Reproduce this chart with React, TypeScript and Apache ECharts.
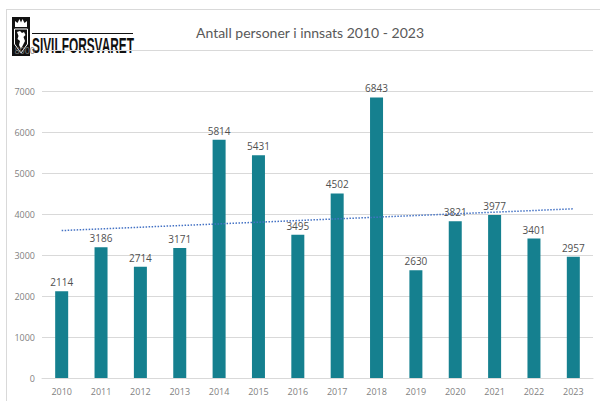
import React, { useEffect, useRef } from "react";
import * as echarts from "echarts";

const years = ["2010", "2011", "2012", "2013", "2014", "2015", "2016", "2017", "2018", "2019", "2020", "2021", "2022", "2023"];
const persons = [2114, 3186, 2714, 3171, 5814, 5431, 3495, 4502, 6843, 2630, 3821, 3977, 3401, 2957];
const titleText = "Antall personer i innsats 2010 - 2023";
const logoText = "SIVILFORSVARET";

// linear trendline (least squares) computed from the data, as Excel does
function linearTrend(vals: number[]): number[] {
  const n = vals.length;
  const mx = (n - 1) / 2;
  const my = vals.reduce((a, b) => a + b, 0) / n;
  let sxy = 0;
  let sxx = 0;
  vals.forEach((v, i) => {
    sxy += (i - mx) * (v - my);
    sxx += (i - mx) * (i - mx);
  });
  const slope = sxy / sxx;
  return vals.map((_, i) => Math.round((my + slope * (i - mx)) * 10) / 10);
}

export default function App() {
  const ref = useRef<HTMLDivElement>(null);
  useEffect(() => {
    if (!ref.current) return;
    const chart = echarts.init(ref.current, null, { renderer: "svg" });
    const trend = linearTrend(persons);
    chart.setOption({
      animation: false,
      backgroundColor: "#ffffff",
      title: {
        text: titleText,
        left: 305,
        top: 20,
        textAlign: "center",
        textStyle: { fontFamily: "Lato", fontSize: 14, fontWeight: "normal", color: "#595959" },
      },
      grid: { left: 42, right: 7, top: 50, bottom: 23 },
      xAxis: {
        type: "category",
        data: years,
        boundaryGap: true,
        axisLine: { show: true, lineStyle: { color: "#d9d9d9", width: 1 } },
        axisTick: { show: false },
        axisLabel: { color: "#7f7f7f", fontSize: 9, fontFamily: "Open Sans", margin: 9 },
      },
      yAxis: {
        type: "value",
        min: 0,
        max: 8000,
        interval: 1000,
        axisLine: { show: false },
        axisTick: { show: false },
        splitLine: { lineStyle: { color: "#d9d9d9", width: 1 } },
        axisLabel: {
          color: "#7f7f7f",
          fontSize: 9,
          fontFamily: "Open Sans",
          margin: 7,
          formatter: (v: number) => String(v),
        },
      },
      series: [
        {
          type: "bar",
          data: persons,
          barWidth: 13,
          itemStyle: { color: "#15808f" },
          label: {
            show: true,
            position: "top",
            distance: 4,
            fontSize: 10,
            fontFamily: "Open Sans",
            color: "#505050",
          },
          z: 2,
        },
        {
          type: "line",
          data: trend,
          symbol: "none",
          silent: true,
          lineStyle: { color: "#4472c4", width: 1.5, type: [1.5, 1.5] },
          z: 3,
        },
      ],
      graphic: [
        // frame
        { type: "line", shape: { x1: 6, y1: 9.5, x2: 600, y2: 9.5 }, style: { stroke: "#d9d9d9", lineWidth: 1 }, z: 10 },
        { type: "line", shape: { x1: 6.5, y1: 9, x2: 6.5, y2: 401 }, style: { stroke: "#d9d9d9", lineWidth: 1 }, z: 10 },
        // logo
        {
          type: "group",
          z: 20,
          children: [
            { type: "rect", shape: { x: 8, y: 12, width: 126, height: 48 }, style: { fill: "#ffffff" } },
            { type: "rect", shape: { x: 12, y: 17, width: 18, height: 39 }, style: { fill: "#111111" } },
            // crown
            {
              type: "polygon",
              shape: { points: [[15, 27], [15, 21], [17.5, 23], [19.5, 19], [21, 22.5], [22.5, 19], [24.5, 23], [27, 21], [27, 27]] },
              style: { fill: "#ffffff" },
            },
            // shield outline
            {
              type: "polyline",
              shape: { points: [[14.5, 29], [27.5, 29], [27.5, 44], [21, 53], [14.5, 44], [14.5, 29]] },
              style: { stroke: "#ffffff", lineWidth: 1, fill: "none" },
            },
            // lion
            {
              type: "polygon",
              shape: { points: [[17, 32], [20, 31], [22, 33], [24, 32], [25.5, 35], [23.5, 37], [25, 41], [23, 45], [21, 49], [19, 45], [20, 41], [17.5, 39], [18.5, 36]] },
              style: { fill: "#ffffff" },
            },
            { type: "line", shape: { x1: 32, y1: 33.5, x2: 133, y2: 33.5 }, style: { stroke: "#111111", lineWidth: 1 } },
            {
              type: "text",
              x: 32,
              y: 57,
              scaleX: 0.54,
              style: {
                text: logoText,
                fontFamily: "Liberation Sans",
                fontWeight: "bold",
                fontSize: 22,
                fill: "#111111",
                verticalAlign: "bottom",
              },
            },
          ],
        },
      ],
    });
    return () => chart.dispose();
  }, []);
  return <div ref={ref} style={{ position: "fixed", left: 0, top: 0, width: 600, height: 401 }} />;
}
